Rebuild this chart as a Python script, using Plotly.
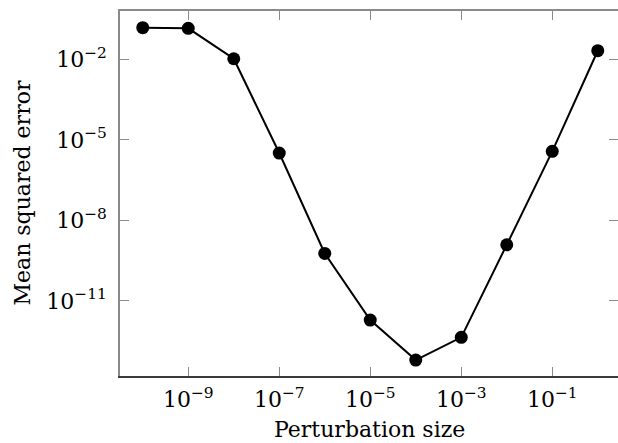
import plotly.graph_objects as go

# Data
perturbation_size = [1e-10, 1e-9, 1e-8, 1e-7, 1e-6, 1e-5, 1e-4, 1e-3, 1e-2, 1e-1, 1e0]
mean_squared_error = [0.151, 0.143, 0.0105, 3.22e-6, 5.87e-10, 1.92e-12,
                      6.2e-14, 4.36e-13, 1.23e-9, 3.72e-6, 0.0209]

x_tick_vals = [1e-9, 1e-7, 1e-5, 1e-3, 1e-1]
x_tick_text = ["10<sup>−9</sup>", "10<sup>−7</sup>", "10<sup>−5</sup>",
               "10<sup>−3</sup>", "10<sup>−1</sup>"]
y_tick_vals = [1e-2, 1e-5, 1e-8, 1e-11]
y_tick_text = ["10<sup>−2</sup>", "10<sup>−5</sup>", "10<sup>−8</sup>", "10<sup>−11</sup>"]

x_title = "Perturbation size"
y_title = "Mean squared error"

FONT = "DejaVu Serif"
FSIZE = 22
GREY = "#8a8a8a"
DARK = "#3a3a3a"
X_RANGE = [-10.5, 0.445]
Y_RANGE = [-13.8, -0.2]

fig = go.Figure()
# invisible copy on the mirrored axes so that top / right ticks get drawn
fig.add_trace(go.Scatter(
    x=perturbation_size, y=mean_squared_error, xaxis="x2", yaxis="y2",
    mode="markers", marker=dict(opacity=0, size=1), hoverinfo="skip",
    showlegend=False,
))
fig.add_trace(go.Scatter(
    x=perturbation_size, y=mean_squared_error,
    mode="lines+markers",
    line=dict(color="black", width=2),
    marker=dict(color="black", size=13),
    showlegend=False,
))

common = dict(showgrid=False, zeroline=False, type="log", ticks="inside",
              ticklen=9, tickwidth=1.2, tickcolor=GREY)

fig.update_layout(
    width=618, height=443,
    margin=dict(l=120, r=0, t=11, b=67),
    paper_bgcolor="white", plot_bgcolor="white",
    font=dict(family=FONT, size=FSIZE, color="black"),
    xaxis=dict(**common, range=X_RANGE, tickvals=x_tick_vals, ticktext=x_tick_text,
               showline=True, linecolor=DARK, linewidth=1.5, mirror=False,
               ticklabelstandoff=3),
    yaxis=dict(**common, range=Y_RANGE, tickvals=y_tick_vals, ticktext=y_tick_text,
               showline=True, linecolor=GREY, linewidth=1.5, mirror=False,
               ticklabelstandoff=7),
    xaxis2=dict(**common, range=X_RANGE, tickvals=x_tick_vals, overlaying="x",
                side="top", anchor="y2", showticklabels=False,
                showline=True, linecolor=GREY, linewidth=1.5),
    yaxis2=dict(**common, range=Y_RANGE, tickvals=y_tick_vals, overlaying="y",
                side="right", anchor="x2", showticklabels=False, showline=False),
    annotations=[
        dict(text=x_title, xref="paper", yref="paper", x=0.5, y=0,
             xanchor="center", yanchor="middle", yshift=-53, showarrow=False,
             font=dict(family=FONT, size=FSIZE)),
        dict(text=y_title, xref="paper", yref="paper", x=0, y=0.5,
             xanchor="center", yanchor="middle", xshift=-98, textangle=-90,
             showarrow=False, font=dict(family=FONT, size=FSIZE)),
    ],
)

fig.write_html(
    "out.html",
    config={"displayModeBar": False},
    post_script="document.body.style.margin='0';document.body.style.overflow='hidden';",
)
